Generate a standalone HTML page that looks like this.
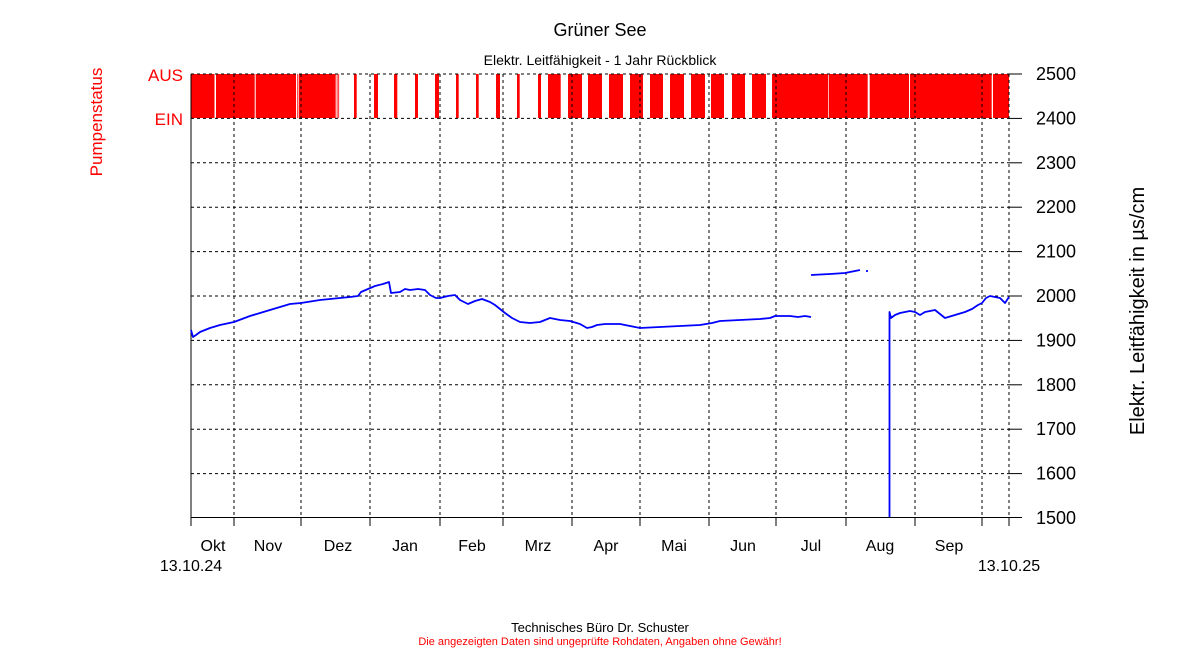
<!DOCTYPE html>
<html><head><meta charset="utf-8"><style>body{margin:0;background:#fff}svg{display:block}</style></head>
<body>
<svg width="1200" height="650" xmlns="http://www.w3.org/2000/svg" font-family="Liberation Sans, Arial, sans-serif">
<rect width="1200" height="650" fill="#fff"/>
<g fill="#ff0000">
<rect x="191.5" y="74" width="23" height="44"/>
<rect x="216" y="74" width="38.7" height="44"/>
<rect x="255.7" y="74" width="40.3" height="44"/>
<rect x="297.3" y="74" width="1" height="44"/>
<rect x="299" y="74" width="36.7" height="44"/>
<rect x="336.7" y="74" width="0.8" height="44"/>
<rect x="338.3" y="74" width="0.8" height="44"/>
<rect x="354" y="74" width="2.7" height="44"/>
<rect x="374" y="74" width="4" height="44"/>
<rect x="394" y="74" width="3.3" height="44"/>
<rect x="415" y="74" width="3" height="44"/>
<rect x="435" y="74" width="4" height="44"/>
<rect x="456" y="74" width="2.7" height="44"/>
<rect x="476" y="74" width="2.7" height="44"/>
<rect x="496" y="74" width="4" height="44"/>
<rect x="517" y="74" width="2.7" height="44"/>
<rect x="538" y="74" width="3" height="44"/>
<rect x="548" y="74" width="12.7" height="44"/>
<rect x="568" y="74" width="14" height="44"/>
<rect x="588" y="74" width="14" height="44"/>
<rect x="609" y="74" width="14" height="44"/>
<rect x="630" y="74" width="13" height="44"/>
<rect x="650" y="74" width="13" height="44"/>
<rect x="670" y="74" width="14" height="44"/>
<rect x="691" y="74" width="14" height="44"/>
<rect x="711" y="74" width="13" height="44"/>
<rect x="732" y="74" width="13" height="44"/>
<rect x="752" y="74" width="14" height="44"/>
<rect x="772" y="74" width="56" height="44"/>
<rect x="828.7" y="74" width="39" height="44"/>
<rect x="869.7" y="74" width="39.3" height="44"/>
<rect x="910" y="74" width="81.7" height="44"/>
<rect x="993" y="74" width="16" height="44"/>
</g>
<g stroke="#000" stroke-width="1" stroke-dasharray="3,3" fill="none">
<line x1="191" y1="74" x2="1009" y2="74"/>
<line x1="191" y1="118.4" x2="1009" y2="118.4"/>
<line x1="191" y1="162.8" x2="1009" y2="162.8"/>
<line x1="191" y1="207.2" x2="1009" y2="207.2"/>
<line x1="191" y1="251.6" x2="1009" y2="251.6"/>
<line x1="191" y1="296" x2="1009" y2="296"/>
<line x1="191" y1="340.4" x2="1009" y2="340.4"/>
<line x1="191" y1="384.8" x2="1009" y2="384.8"/>
<line x1="191" y1="429.2" x2="1009" y2="429.2"/>
<line x1="191" y1="473.6" x2="1009" y2="473.6"/>
<line x1="234" y1="74" x2="234" y2="518"/>
<line x1="301" y1="74" x2="301" y2="518"/>
<line x1="370" y1="74" x2="370" y2="518"/>
<line x1="440" y1="74" x2="440" y2="518"/>
<line x1="503" y1="74" x2="503" y2="518"/>
<line x1="572" y1="74" x2="572" y2="518"/>
<line x1="640" y1="74" x2="640" y2="518"/>
<line x1="709" y1="74" x2="709" y2="518"/>
<line x1="776" y1="74" x2="776" y2="518"/>
<line x1="846" y1="74" x2="846" y2="518"/>
<line x1="915" y1="74" x2="915" y2="518"/>
<line x1="982" y1="74" x2="982" y2="518"/>
<line x1="1009" y1="74" x2="1009" y2="518"/>
</g>
<g stroke="#000" stroke-width="1">
<line x1="191" y1="74" x2="191" y2="518"/>
<line x1="191" y1="517.5" x2="1009" y2="517.5"/>
<line x1="191" y1="518" x2="191" y2="526"/>
<line x1="234" y1="518" x2="234" y2="526"/>
<line x1="301" y1="518" x2="301" y2="526"/>
<line x1="370" y1="518" x2="370" y2="526"/>
<line x1="440" y1="518" x2="440" y2="526"/>
<line x1="503" y1="518" x2="503" y2="526"/>
<line x1="572" y1="518" x2="572" y2="526"/>
<line x1="640" y1="518" x2="640" y2="526"/>
<line x1="709" y1="518" x2="709" y2="526"/>
<line x1="776" y1="518" x2="776" y2="526"/>
<line x1="846" y1="518" x2="846" y2="526"/>
<line x1="915" y1="518" x2="915" y2="526"/>
<line x1="982" y1="518" x2="982" y2="526"/>
<line x1="1009" y1="518" x2="1009" y2="526"/>
<line x1="1009" y1="74" x2="1022" y2="74"/>
<line x1="1009" y1="118.4" x2="1022" y2="118.4"/>
<line x1="1009" y1="162.8" x2="1022" y2="162.8"/>
<line x1="1009" y1="207.2" x2="1022" y2="207.2"/>
<line x1="1009" y1="251.6" x2="1022" y2="251.6"/>
<line x1="1009" y1="296" x2="1022" y2="296"/>
<line x1="1009" y1="340.4" x2="1022" y2="340.4"/>
<line x1="1009" y1="384.8" x2="1022" y2="384.8"/>
<line x1="1009" y1="429.2" x2="1022" y2="429.2"/>
<line x1="1009" y1="473.6" x2="1022" y2="473.6"/>
<line x1="1009" y1="517.5" x2="1022" y2="517.5"/>
</g>
<g fill="none" stroke="#0000ff" stroke-width="1.8" stroke-linejoin="round">
<polyline points="191,330 193,337 196,335 200,332 210,328 220,325 234,322 250,316 270,310 290,304 301,303 320,300 340,298 350,297 358,296 361,292 368,289 375,286 383,284 389,282 391,293 400,292 405,289 410,290 418,289 425,290 430,295 436,298 440,298 448,296 455,295 460,300 468,304 475,301 482,299 490,302 495,305 505,313 512,318 520,322 530,323 540,322 550,318 560,320 570,321 580,324 587,328 592,327 597,325 605,324 620,324 630,326 640,328 660,327 680,326 700,325 712,323 720,321 740,320 760,319 770,318 775,316 780,316 790,316 798,317 805,316 811,317"/>
<polyline points="811,275 830,274 845,273 855,271 860,270"/>
<line x1="866" y1="271" x2="868" y2="271"/>
<polyline points="889.5,517 889.5,312 891,318 895,315 900,313 910,311 915,312 920,315 925,312 935,310 940,314 945,318 955,315 965,312 972,309 978,305 982,303 986,298 990,296 1000,298 1005,303 1009,297"/>
</g>
<g font-size="18" fill="#000">
<text x="1036" y="80">2500</text>
<text x="1036" y="124.4">2400</text>
<text x="1036" y="168.8">2300</text>
<text x="1036" y="213.2">2200</text>
<text x="1036" y="257.6">2100</text>
<text x="1036" y="302">2000</text>
<text x="1036" y="346.4">1900</text>
<text x="1036" y="390.8">1800</text>
<text x="1036" y="435.2">1700</text>
<text x="1036" y="479.6">1600</text>
<text x="1036" y="524">1500</text>
</g>
<g font-size="16" fill="#000" text-anchor="middle">
<text x="213" y="551">Okt</text>
<text x="268" y="551">Nov</text>
<text x="338" y="551">Dez</text>
<text x="405" y="551">Jan</text>
<text x="472" y="551">Feb</text>
<text x="538" y="551">Mrz</text>
<text x="606" y="551">Apr</text>
<text x="674" y="551">Mai</text>
<text x="743" y="551">Jun</text>
<text x="811" y="551">Jul</text>
<text x="880" y="551">Aug</text>
<text x="949" y="551">Sep</text>
<text x="191" y="571">13.10.24</text>
<text x="1009" y="571">13.10.25</text>
</g>
<text x="600" y="36" font-size="18" text-anchor="middle">Grüner See</text>
<text x="600" y="65" font-size="14" text-anchor="middle">Elektr. Leitfähigkeit - 1 Jahr Rückblick</text>
<text transform="translate(1144,311) rotate(-90)" font-size="20" text-anchor="middle">Elektr. Leitfähigkeit in µs/cm</text>
<text transform="translate(102,122) rotate(-90)" font-size="17" fill="#ff0000" text-anchor="middle">Pumpenstatus</text>
<text x="183" y="81" font-size="17" fill="#ff0000" text-anchor="end">AUS</text>
<text x="183" y="125" font-size="17" fill="#ff0000" text-anchor="end">EIN</text>
<text x="600" y="632" font-size="13" text-anchor="middle">Technisches Büro Dr. Schuster</text>
<text x="600" y="645" font-size="11" fill="#ff0000" text-anchor="middle">Die angezeigten Daten sind ungeprüfte Rohdaten, Angaben ohne Gewähr!</text>
</svg>
</body></html>
